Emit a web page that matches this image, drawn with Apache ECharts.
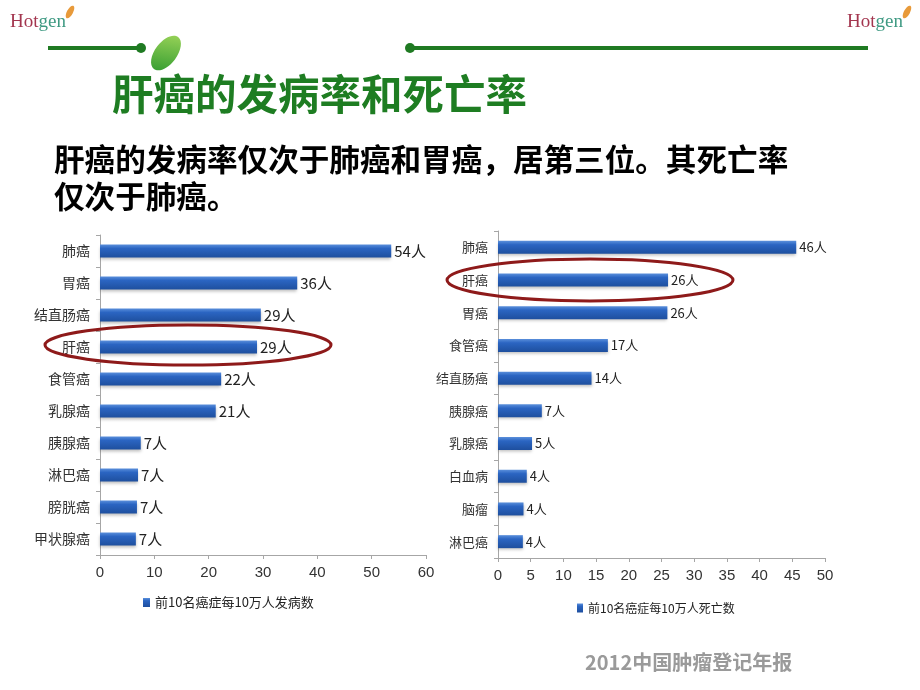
<!DOCTYPE html>
<html>
<head>
<meta charset="utf-8">
<script src="https://cdn.jsdelivr.net/npm/echarts@6/dist/echarts.min.js"></script>
<style>
html, body { margin: 0; padding: 0; background: #fff; }
#main { width: 920px; height: 690px; }
</style>
</head>
<body>
<div id="main"></div>
<script>
// 发病数
var incCats = ['肺癌', '胃癌', '结直肠癌', '肝癌', '食管癌', '乳腺癌', '胰腺癌', '淋巴癌', '膀胱癌', '甲状腺癌'];
var incVals = [53.6, 36.3, 29.6, 28.9, 22.3, 21.3, 7.5, 7.0, 6.8, 6.6];
var incLabels = ['54人', '36人', '29人', '29人', '22人', '21人', '7人', '7人', '7人', '7人'];
var incTicks = [0, 10, 20, 30, 40, 50, 60];

// 死亡数
var deathCats = ['肺癌', '肝癌', '胃癌', '食管癌', '结直肠癌', '胰腺癌', '乳腺癌', '白血病', '脑瘤', '淋巴癌'];
var deathVals = [45.6, 26.0, 25.9, 16.8, 14.3, 6.7, 5.2, 4.4, 3.9, 3.8];
var deathLabels = ['46人', '26人', '26人', '17人', '14人', '7人', '5人', '4人', '4人', '4人'];
var deathTicks = [0, 5, 10, 15, 20, 25, 30, 35, 40, 45, 50];

var chart = echarts.init(document.getElementById('main'));

var barColor = new echarts.graphic.LinearGradient(0, 0, 0, 1, [
    { offset: 0, color: '#5a8fdb' },
    { offset: 0.3, color: '#2b65c2' },
    { offset: 1, color: '#1e4f9e' }
]);
var axisGrey = '#a6a6a6';
var labelFont = '"Noto Sans CJK SC", sans-serif';

function valueAxis(idx, ticks) {
    return {
        gridIndex: idx,
        type: 'value',
        min: ticks[0],
        max: ticks[ticks.length - 1],
        interval: ticks[1] - ticks[0],
        splitLine: { show: false },
        axisLine: { show: true, lineStyle: { color: axisGrey } },
        axisTick: { show: true, length: 4, lineStyle: { color: axisGrey } },
        axisLabel: { color: '#333', fontSize: 15, fontFamily: 'Liberation Sans Narrow, sans-serif', margin: 10 }
    };
}

function catAxis(idx, cats, size) {
    return {
        gridIndex: idx,
        type: 'category',
        inverse: true,
        data: cats,
        axisLine: { show: true, lineStyle: { color: axisGrey } },
        axisTick: { show: true, length: 4, lineStyle: { color: axisGrey } },
        axisLabel: { color: '#333', fontSize: size, fontFamily: labelFont, margin: 10 }
    };
}

function barSeries(idx, name, vals, labels, size) {
    return {
        name: name,
        type: 'bar',
        xAxisIndex: idx,
        yAxisIndex: idx,
        data: vals,
        barWidth: 13,
        itemStyle: {
            color: barColor,
            shadowColor: 'rgba(0,0,0,0.25)',
            shadowBlur: 3,
            shadowOffsetY: 2
        },
        label: {
            show: true,
            position: 'right',
            distance: 3,
            color: '#222',
            fontSize: size,
            fontFamily: labelFont,
            formatter: function (p) { return labels[p.dataIndex]; }
        }
    };
}

function logo(x) {
    return {
        type: 'text', left: x, top: 13,
        style: {
            text: '{a|Hot}{b|gen}',
            rich: {
                a: { fill: '#a3364f', fontSize: 19, fontFamily: 'Liberation Serif, serif' },
                b: { fill: '#3f9a83', fontSize: 19, fontFamily: 'Liberation Serif, serif' }
            }
        }
    };
}

var option = {
    backgroundColor: '#fff',
    animation: false,
    grid: [
        { left: 100, top: 235, width: 326, height: 320 },
        { left: 498, top: 231, width: 327, height: 327 }
    ],
    xAxis: [valueAxis(0, incTicks), valueAxis(1, deathTicks)],
    yAxis: [catAxis(0, incCats, 14), catAxis(1, deathCats, 13)],
    legend: [
        {
            data: ['前10名癌症每10万人发病数'],
            left: 138, top: 591,
            itemWidth: 7, itemHeight: 9, itemGap: 4,
            icon: 'rect',
            textStyle: { fontSize: 13, color: '#222', fontFamily: labelFont }
        },
        {
            data: ['前10名癌症每10万人死亡数'],
            left: 572, top: 597,
            itemWidth: 6, itemHeight: 9, itemGap: 4,
            icon: 'rect',
            textStyle: { fontSize: 12, color: '#222', fontFamily: labelFont }
        }
    ],
    series: [
        barSeries(0, '前10名癌症每10万人发病数', incVals, incLabels, 15),
        barSeries(1, '前10名癌症每10万人死亡数', deathVals, deathLabels, 13)
    ],
    graphic: [
        // logos
        logo(10),
        { type: 'ellipse', shape: { cx: 70, cy: 12, rx: 3, ry: 7 }, rotation: -0.5, originX: 70, originY: 12, style: { fill: '#e89a3a' } },
        logo(847),
        { type: 'ellipse', shape: { cx: 907, cy: 12, rx: 3, ry: 7 }, rotation: -0.5, originX: 907, originY: 12, style: { fill: '#e89a3a' } },
        // green lines
        { type: 'line', shape: { x1: 48, y1: 48, x2: 140, y2: 48 }, style: { stroke: '#1f7a22', lineWidth: 4 } },
        { type: 'circle', shape: { cx: 141, cy: 48, r: 5 }, style: { fill: '#1f7a22' } },
        { type: 'line', shape: { x1: 410, y1: 48, x2: 868, y2: 48 }, style: { stroke: '#1f7a22', lineWidth: 4 } },
        { type: 'circle', shape: { cx: 410, cy: 48, r: 5 }, style: { fill: '#1f7a22' } },
        // leaf
        {
            type: 'ellipse', shape: { cx: 166, cy: 53, rx: 11, ry: 20 },
            rotation: -0.65, originX: 166, originY: 53,
            style: {
                fill: new echarts.graphic.LinearGradient(0, 0, 1, 1, [
                    { offset: 0, color: '#9fd65a' },
                    { offset: 1, color: '#2f9a2f' }
                ])
            }
        },
        // title
        {
            type: 'text', left: 112, top: 73,
            style: {
                text: '肝癌的发病率和死亡率', fill: '#1e7d22', fontSize: 41.5, fontWeight: 'bold',
                fontFamily: '"Noto Sans CJK SC", sans-serif',
                shadowColor: 'rgba(0,0,0,0.25)', shadowOffsetX: 1, shadowOffsetY: 1, shadowBlur: 1
            }
        },
        {
            type: 'text', left: 54, top: 141,
            style: {
                text: '肝癌的发病率仅次于肺癌和胃癌，居第三位。其死亡率\n仅次于肺癌。',
                fill: '#000', fontSize: 30.6, fontWeight: 'bold', lineHeight: 37,
                fontFamily: '"Noto Sans CJK SC", sans-serif'
            }
        },
        // highlight rings
        { type: 'ellipse', shape: { cx: 188, cy: 345, rx: 143, ry: 20 }, style: { fill: 'none', stroke: '#8e1a1a', lineWidth: 3 }, z: 100 },
        { type: 'ellipse', shape: { cx: 590, cy: 280, rx: 143, ry: 21 }, style: { fill: 'none', stroke: '#8e1a1a', lineWidth: 3 }, z: 100 },
        // source
        {
            type: 'text', left: 585, top: 652,
            style: {
                text: '2012中国肿瘤登记年报', fill: '#9a9a9a', fontSize: 20, fontWeight: 'bold',
                fontFamily: '"Noto Sans CJK SC", sans-serif'
            }
        }
    ]
};

chart.setOption(option);
</script>
</body>
</html>
